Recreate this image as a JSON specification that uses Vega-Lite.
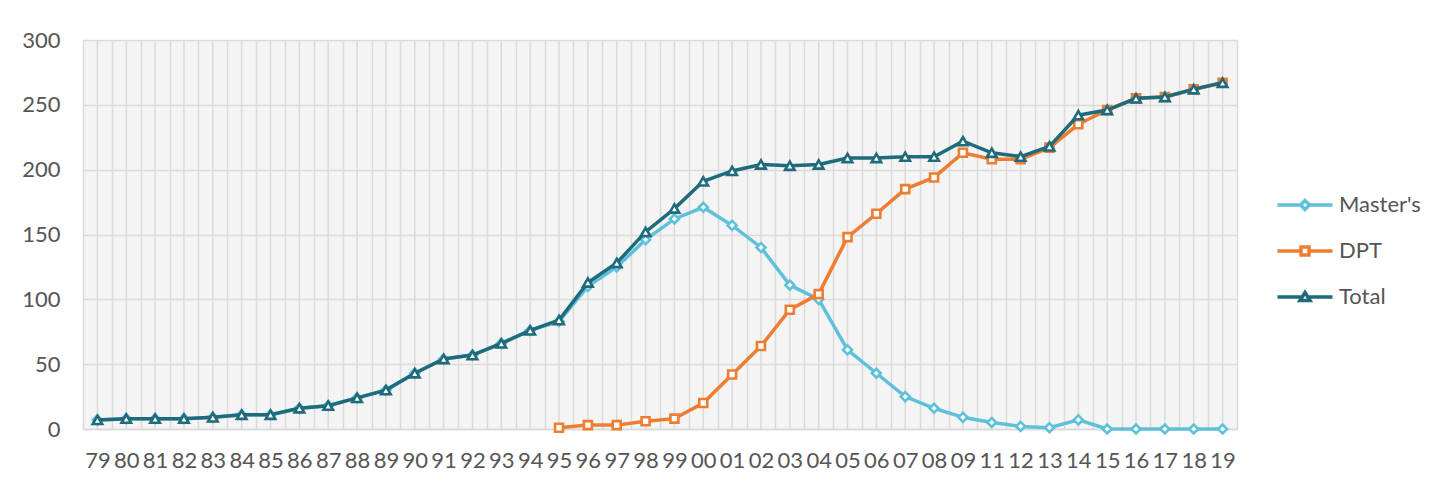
{
  "$schema": "https://vega.github.io/schema/vega-lite/v6.json",
  "autosize": "none",
  "padding": {"left": 83, "top": 40, "right": 215, "bottom": 56},
  "width": 1154,
  "height": 389,
  "background": "white",
  "config": {
    "font": "Lato",
    "view": {"fill": "#f4f4f4", "stroke": null},
    "axis": {"labelFont": "Lato", "labelFontSize": 22, "labelColor": "#555555", "gridColor": "#dadada", "gridWidth": 1.5, "title": null}
  },
  "data": {"values": [
    {"year":"79","series":"Master's","count":7},{"year":"80","series":"Master's","count":8},{"year":"81","series":"Master's","count":8},{"year":"82","series":"Master's","count":8},{"year":"83","series":"Master's","count":9},{"year":"84","series":"Master's","count":11},{"year":"85","series":"Master's","count":11},{"year":"86","series":"Master's","count":16},{"year":"87","series":"Master's","count":18},{"year":"88","series":"Master's","count":24},{"year":"89","series":"Master's","count":30},{"year":"90","series":"Master's","count":43},{"year":"91","series":"Master's","count":54},{"year":"92","series":"Master's","count":57},{"year":"93","series":"Master's","count":66},{"year":"94","series":"Master's","count":76},{"year":"95","series":"Master's","count":83},{"year":"96","series":"Master's","count":110},{"year":"97","series":"Master's","count":125},{"year":"98","series":"Master's","count":146},{"year":"99","series":"Master's","count":162},{"year":"00","series":"Master's","count":171},{"year":"01","series":"Master's","count":157},{"year":"02","series":"Master's","count":140},{"year":"03","series":"Master's","count":111},{"year":"04","series":"Master's","count":100},{"year":"05","series":"Master's","count":61},{"year":"06","series":"Master's","count":43},{"year":"07","series":"Master's","count":25},{"year":"08","series":"Master's","count":16},{"year":"09","series":"Master's","count":9},{"year":"11","series":"Master's","count":5},{"year":"12","series":"Master's","count":2},{"year":"13","series":"Master's","count":1},{"year":"14","series":"Master's","count":7},{"year":"15","series":"Master's","count":0},{"year":"16","series":"Master's","count":0},{"year":"17","series":"Master's","count":0},{"year":"18","series":"Master's","count":0},{"year":"19","series":"Master's","count":0},
    {"year":"95","series":"DPT","count":1},{"year":"96","series":"DPT","count":3},{"year":"97","series":"DPT","count":3},{"year":"98","series":"DPT","count":6},{"year":"99","series":"DPT","count":8},{"year":"00","series":"DPT","count":20},{"year":"01","series":"DPT","count":42},{"year":"02","series":"DPT","count":64},{"year":"03","series":"DPT","count":92},{"year":"04","series":"DPT","count":104},{"year":"05","series":"DPT","count":148},{"year":"06","series":"DPT","count":166},{"year":"07","series":"DPT","count":185},{"year":"08","series":"DPT","count":194},{"year":"09","series":"DPT","count":213},{"year":"11","series":"DPT","count":208},{"year":"12","series":"DPT","count":208},{"year":"13","series":"DPT","count":217},{"year":"14","series":"DPT","count":235},{"year":"15","series":"DPT","count":246},{"year":"16","series":"DPT","count":255},{"year":"17","series":"DPT","count":256},{"year":"18","series":"DPT","count":262},{"year":"19","series":"DPT","count":267},
    {"year":"79","series":"Total","count":7},{"year":"80","series":"Total","count":8},{"year":"81","series":"Total","count":8},{"year":"82","series":"Total","count":8},{"year":"83","series":"Total","count":9},{"year":"84","series":"Total","count":11},{"year":"85","series":"Total","count":11},{"year":"86","series":"Total","count":16},{"year":"87","series":"Total","count":18},{"year":"88","series":"Total","count":24},{"year":"89","series":"Total","count":30},{"year":"90","series":"Total","count":43},{"year":"91","series":"Total","count":54},{"year":"92","series":"Total","count":57},{"year":"93","series":"Total","count":66},{"year":"94","series":"Total","count":76},{"year":"95","series":"Total","count":84},{"year":"96","series":"Total","count":113},{"year":"97","series":"Total","count":128},{"year":"98","series":"Total","count":152},{"year":"99","series":"Total","count":170},{"year":"00","series":"Total","count":191},{"year":"01","series":"Total","count":199},{"year":"02","series":"Total","count":204},{"year":"03","series":"Total","count":203},{"year":"04","series":"Total","count":204},{"year":"05","series":"Total","count":209},{"year":"06","series":"Total","count":209},{"year":"07","series":"Total","count":210},{"year":"08","series":"Total","count":210},{"year":"09","series":"Total","count":222},{"year":"11","series":"Total","count":213},{"year":"12","series":"Total","count":210},{"year":"13","series":"Total","count":218},{"year":"14","series":"Total","count":242},{"year":"15","series":"Total","count":246},{"year":"16","series":"Total","count":255},{"year":"17","series":"Total","count":256},{"year":"18","series":"Total","count":262},{"year":"19","series":"Total","count":267}
  ]},
  "encoding": {
    "x": {
      "field": "year", "type": "nominal",
      "sort": ["79","80","81","82","83","84","85","86","87","88","89","90","91","92","93","94","95","96","97","98","99","00","01","02","03","04","05","06","07","08","09","11","12","13","14","15","16","17","18","19"],
      "scale": {"type": "band", "paddingInner": 0, "paddingOuter": 0},
      "axis": {"labelAngle": 0, "ticks": false, "domain": true, "domainColor": "#d9d9d9", "domainWidth": 1.5, "grid": true, "tickBand": "extent", "labelPadding": 21}
    }
  },
  "layer": [
    {
      "transform": [{"filter": "datum.series == 'Total'"}],
      "mark": {"type": "rule", "color": "#dadada", "strokeWidth": 1.5},
      "encoding": {}
    },
    {
      "transform": [{"filter": "datum.series != 'DPT' && datum.series != 'Total'"}],
      "mark": {"type": "line", "strokeWidth": 3.5},
      "encoding": {
        "y": {"field": "count", "type": "quantitative", "scale": {"domain": [0, 300]}, "axis": {"values": [0,50,100,150,200,250,300], "ticks": false, "domain": false, "labelPadding": 23}},
        "color": {"field": "series", "type": "nominal",
          "scale": {"domain": ["Master's", "DPT", "Total"], "range": ["#5ec1d9", "#ed7d31", "#1f6b7b"]},
          "legend": {"orient": "none", "legendX": 1211, "legendY": 154, "title": null, "symbolSize": 100, "labelOffset": 23, "rowPadding": 23, "padding": 0,
            "labelFont": "Lato", "labelFontSize": 22, "labelColor": "#555555",
            "encode": {"symbols": {"update": {
              "shape": {"signal": "datum.value == 'DPT' ? 'M-5.5,0H-0.8M0.8,0H5.5M-0.8,-0.8H0.8V0.8H-0.8Z' : datum.value == 'Total' ? 'M-5.5,0H-0.56M0.56,0H5.5M0,-0.9L1,0.7L-1,0.7Z' : 'M-5.5,0H-0.9M0.9,0H5.5M0,-0.9L0.9,0L0,0.9L-0.9,0Z'"},
              "fill": {"value": "white"}, "strokeWidth": {"value": 3.5}, "opacity": {"value": 1}}}}}}
      }
    },
    {
      "transform": [{"filter": "datum.series != 'DPT' && datum.series != 'Total'"}],
      "mark": {"type": "point", "shape": "diamond", "filled": false, "fill": "white", "opacity": 1, "strokeWidth": 2.6, "size": 80},
      "encoding": {
        "y": {"field": "count", "type": "quantitative"},
        "color": {"field": "series", "type": "nominal", "scale": {"domain": ["Master's", "DPT", "Total"], "range": ["#5ec1d9", "#ed7d31", "#1f6b7b"]}}
      }
    },
    {
      "transform": [{"filter": "datum.series == 'DPT'"}],
      "mark": {"type": "line", "strokeWidth": 3.5},
      "encoding": {
        "y": {"field": "count", "type": "quantitative"},
        "color": {"field": "series", "type": "nominal", "scale": {"domain": ["Master's", "DPT", "Total"], "range": ["#5ec1d9", "#ed7d31", "#1f6b7b"]}}
      }
    },
    {
      "transform": [{"filter": "datum.series == 'DPT'"}],
      "mark": {"type": "point", "shape": "square", "filled": false, "fill": "white", "opacity": 1, "strokeWidth": 2.6, "size": 64},
      "encoding": {
        "y": {"field": "count", "type": "quantitative"},
        "color": {"field": "series", "type": "nominal", "scale": {"domain": ["Master's", "DPT", "Total"], "range": ["#5ec1d9", "#ed7d31", "#1f6b7b"]}}
      }
    },
    {
      "transform": [{"filter": "datum.series == 'Total'"}],
      "mark": {"type": "line", "strokeWidth": 3.5},
      "encoding": {
        "y": {"field": "count", "type": "quantitative"},
        "color": {"field": "series", "type": "nominal", "scale": {"domain": ["Master's", "DPT", "Total"], "range": ["#5ec1d9", "#ed7d31", "#1f6b7b"]}}
      }
    },
    {
      "transform": [{"filter": "datum.series == 'Total'"}],
      "mark": {"type": "point", "shape": "triangle-up", "filled": false, "fill": "white", "opacity": 1, "strokeWidth": 2.6, "size": 90},
      "encoding": {
        "y": {"field": "count", "type": "quantitative"},
        "color": {"field": "series", "type": "nominal", "scale": {"domain": ["Master's", "DPT", "Total"], "range": ["#5ec1d9", "#ed7d31", "#1f6b7b"]}}
      }
    }
  ]
}
